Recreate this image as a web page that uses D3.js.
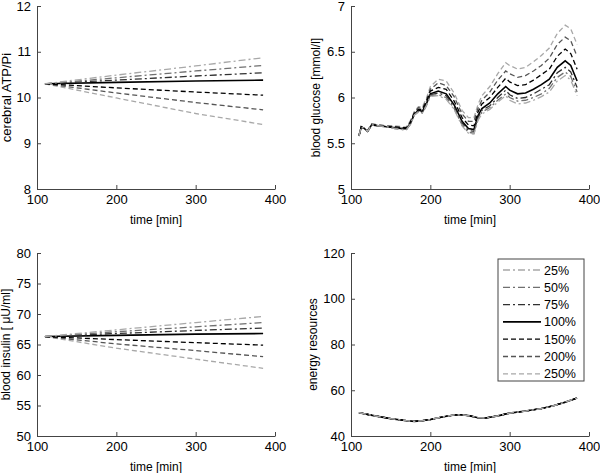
<!DOCTYPE html>
<html>
<head>
<meta charset="utf-8">
<script src="https://cdn.jsdelivr.net/npm/d3@7"></script>
<style>
  body { margin: 0; background: #fff; }
  text { font-family: "Liberation Sans", Arial, sans-serif; fill: #000; }
</style>
</head>
<body>
<script>
/* four panel figure: scenarios 25% .. 250% */

var seriesNames = ["25%", "50%", "75%", "100%", "150%", "200%", "250%"];
var seriesColors = ["#a8a8a8", "#707070", "#303030", "#000000", "#000000", "#555555", "#a8a8a8"];
var seriesDash = ["7,3,2,3", "7,3,2,3", "7,3,2,3", null, "5,3", "5,3", "5,3"];

// cerebral ATP/Pi
var atpTime = [110, 200, 300, 385];
var atpValues = [
    [10.30, 10.49, 10.69, 10.87],
    [10.30, 10.43, 10.58, 10.70],
    [10.30, 10.38, 10.47, 10.54],
    [10.30, 10.33, 10.36, 10.38],
    [10.30, 10.21, 10.12, 10.05],
    [10.30, 10.10, 9.89, 9.73],
    [10.30, 9.99, 9.65, 9.41]
];

// blood glucose
var gluTime = [110,113,117,121,126,135,145,155,165,170,175,180,185,190,195,200,210,220,230,240,248,255,260,265,275,285,295,300,310,320,330,340,350,360,370,377,385];
var gluValues = [
    [5.58,5.68,5.66,5.63,5.70,5.69,5.68,5.66,5.65,5.65,5.71,5.81,5.84,5.83,5.91,6.01,6.02,5.98,5.87,5.69,5.61,5.60,5.75,5.82,5.87,5.95,6.02,5.97,5.93,5.94,5.97,6.01,6.06,6.18,6.24,6.19,6.02],
    [5.58,5.68,5.66,5.63,5.70,5.69,5.68,5.66,5.65,5.65,5.71,5.81,5.85,5.83,5.91,6.02,6.03,6.00,5.88,5.70,5.62,5.61,5.76,5.84,5.89,5.97,6.04,6.00,5.96,5.97,6.00,6.04,6.10,6.22,6.28,6.23,6.06],
    [5.58,5.68,5.66,5.63,5.70,5.69,5.68,5.67,5.66,5.66,5.71,5.81,5.85,5.84,5.92,6.03,6.05,6.02,5.90,5.72,5.64,5.63,5.78,5.86,5.91,6.00,6.08,6.03,5.99,6.00,6.04,6.09,6.14,6.27,6.33,6.28,6.11],
    [5.58,5.68,5.66,5.63,5.70,5.69,5.68,5.67,5.66,5.66,5.72,5.82,5.86,5.85,5.93,6.04,6.07,6.04,5.92,5.74,5.66,5.65,5.80,5.88,5.94,6.04,6.12,6.08,6.04,6.05,6.09,6.14,6.20,6.33,6.40,6.35,6.18],
    [5.58,5.68,5.66,5.63,5.70,5.69,5.68,5.68,5.67,5.67,5.73,5.83,5.87,5.87,5.95,6.07,6.11,6.09,5.96,5.78,5.70,5.69,5.84,5.93,6.00,6.11,6.21,6.17,6.13,6.14,6.19,6.25,6.31,6.45,6.53,6.48,6.31],
    [5.58,5.68,5.66,5.64,5.71,5.70,5.69,5.68,5.67,5.67,5.74,5.84,5.89,5.88,5.97,6.09,6.16,6.13,6.01,5.82,5.74,5.74,5.88,5.97,6.06,6.19,6.29,6.26,6.22,6.24,6.29,6.35,6.43,6.58,6.66,6.62,6.45],
    [5.58,5.68,5.66,5.64,5.71,5.70,5.69,5.69,5.68,5.68,5.75,5.85,5.90,5.90,5.99,6.12,6.20,6.18,6.05,5.86,5.78,5.78,5.92,6.02,6.12,6.26,6.38,6.35,6.31,6.33,6.39,6.46,6.54,6.70,6.79,6.75,6.58]
];

// blood insulin
var insTime = [110, 200, 300, 385];
var insValues = [
    [66.3, 67.4, 68.6, 69.6],
    [66.3, 67.1, 67.9, 68.6],
    [66.3, 66.8, 67.3, 67.7],
    [66.3, 66.5, 66.7, 66.8],
    [66.3, 65.8, 65.3, 64.9],
    [66.3, 65.1, 64.0, 63.0],
    [66.3, 64.4, 62.6, 61.1]
];

// energy resources (all scenarios overlap)
var enTime = [110, 130, 150, 170, 180, 190, 200, 215, 230, 240, 250, 260, 270, 285, 300, 320, 340, 355, 370, 385];
var enValues = [50.2, 48.8, 47.6, 46.7, 46.4, 46.7, 47.2, 48.3, 49.2, 49.3, 48.8, 48.0, 47.9, 48.8, 50.0, 50.9, 52.0, 53.2, 54.8, 56.6];

var timeTicks = [100, 200, 300, 400];

var svg = d3.select("body").append("svg")
    .attr("width", 600)
    .attr("height", 473);

function drawPanel(left, top, yDomain, yTicks, yLabel, labelX, labelSize, time, values) {
    var w = 238, h = 183;
    var g = svg.append("g").attr("transform", "translate(" + left + "," + top + ")");

    var x = d3.scaleLinear().domain([100, 400]).range([0, w]);
    var y = d3.scaleLinear().domain(yDomain).range([h, 0]);

    var line = d3.line()
        .x(function(d) { return x(d[0]); })
        .y(function(d) { return y(d[1]); });

    // draw from 250% down to 25% so the solid line stays visible
    for (var i = values.length - 1; i >= 0; i--) {
        var pts = time.map(function(t, k) { return [t, values[i][k]]; });
        g.append("path")
            .attr("d", line(pts))
            .attr("fill", "none")
            .attr("stroke", seriesColors[i])
            .attr("stroke-width", i == 3 ? 1.6 : 1.3)
            .attr("stroke-dasharray", seriesDash[i]);
    }

    var xAxis = g.append("g")
        .attr("transform", "translate(0," + h + ")")
        .call(d3.axisBottom(x).tickValues(timeTicks).tickSizeInner(-4).tickSizeOuter(0).tickPadding(6));
    var yAxis = g.append("g")
        .call(d3.axisLeft(y).tickValues(yTicks).tickFormat(d3.format("~g"))
            .tickSizeInner(-4).tickSizeOuter(0).tickPadding(6));

    [xAxis, yAxis].forEach(function(a) {
        a.selectAll("path, line").attr("stroke", "#444");
        a.selectAll("text").style("font-size", "13px").style("font-family", "'Liberation Sans', Arial, sans-serif").attr("fill", "#000");
    });

    g.append("text")
        .attr("x", w / 2)
        .attr("y", h + 35)
        .attr("text-anchor", "middle")
        .style("font-size", "12px")
        .text("time [min]");

    g.append("text")
        .attr("transform", "translate(" + (labelX - left) + "," + (h / 2) + ") rotate(-90)")
        .attr("text-anchor", "middle")
        .attr("dy", "0.35em")
        .style("font-size", labelSize + "px")
        .text(yLabel);
    return g;
}

drawPanel(37, 6, [8, 12], [8, 9, 10, 11, 12], "cerebral ATP/Pi", 6, 13, atpTime, atpValues);
drawPanel(351, 6, [5, 7], [5, 5.5, 6, 6.5, 7], "blood glucose [mmol/l]", 316, 12, gluTime, gluValues);
drawPanel(37, 253, [50, 80], [50, 55, 60, 65, 70, 75, 80], "blood insulin [ \u03bcU/ml]", 6, 12, insTime, insValues);
drawPanel(351, 253, [40, 120], [40, 60, 80, 100, 120], "energy resources", 313, 12, enTime,
    seriesNames.map(function() { return enValues; }));

// legend
var legend = svg.append("g");
legend.append("rect")
    .attr("x", 498).attr("y", 259)
    .attr("width", 86).attr("height", 122)
    .attr("fill", "#fff")
    .attr("stroke", "#444");

seriesNames.forEach(function(name, i) {
    var ly = 270 + i * 17.3;
    legend.append("line")
        .attr("x1", 503).attr("x2", 541)
        .attr("y1", ly).attr("y2", ly)
        .attr("stroke", seriesColors[i])
        .attr("stroke-width", i == 3 ? 1.6 : 1.3)
        .attr("stroke-dasharray", seriesDash[i]);
    legend.append("text")
        .attr("x", 544)
        .attr("y", ly + 4.5)
        .style("font-size", "12.5px")
        .text(name);
});
</script>
</body>
</html>
